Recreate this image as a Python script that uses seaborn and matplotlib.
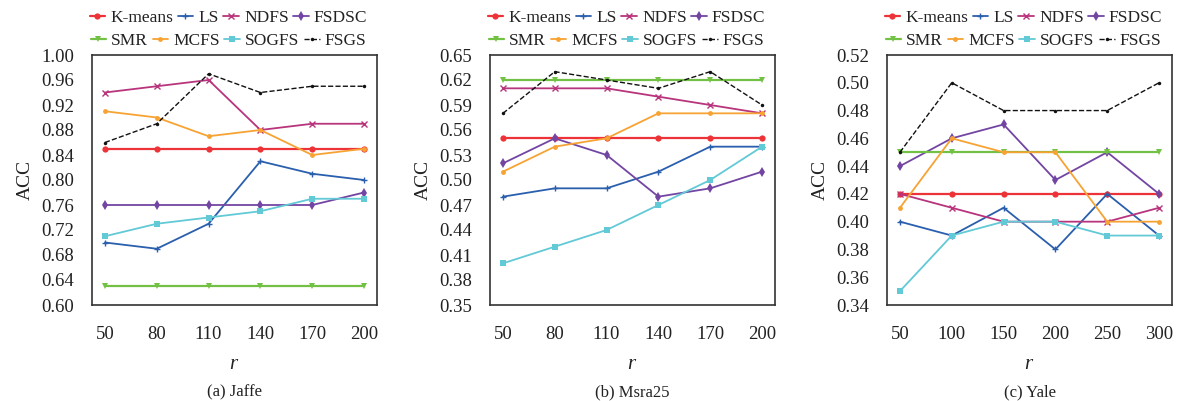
import numpy as np
import pandas as pd
import matplotlib
matplotlib.use("Agg")
import matplotlib.pyplot as plt
import seaborn as sns

sns.set_theme(style="white")
plt.rcParams['font.family'] = ['Liberation Serif', 'DejaVu Serif']
plt.rcParams['mathtext.fontset'] = 'custom'
plt.rcParams['mathtext.it'] = 'Liberation Serif:italic'

methods = ["K-means", "LS", "NDFS", "FSDSC", "SMR", "MCFS", "SOGFS", "FSGS"]

r_jaffe = [50, 80, 110, 140, 170, 200]
jaffe = {
    "K-means": [0.85, 0.85, 0.85, 0.85, 0.85, 0.85],
    "LS":      [0.70, 0.69, 0.73, 0.83, 0.81, 0.80],
    "NDFS":    [0.94, 0.95, 0.96, 0.88, 0.89, 0.89],
    "FSDSC":   [0.76, 0.76, 0.76, 0.76, 0.76, 0.78],
    "SMR":     [0.63, 0.63, 0.63, 0.63, 0.63, 0.63],
    "MCFS":    [0.91, 0.90, 0.87, 0.88, 0.84, 0.85],
    "SOGFS":   [0.71, 0.73, 0.74, 0.75, 0.77, 0.77],
    "FSGS":    [0.86, 0.89, 0.97, 0.94, 0.95, 0.95],
}

r_msra = [50, 80, 110, 140, 170, 200]
msra = {
    "K-means": [0.55, 0.55, 0.55, 0.55, 0.55, 0.55],
    "LS":      [0.48, 0.49, 0.49, 0.51, 0.54, 0.54],
    "NDFS":    [0.61, 0.61, 0.61, 0.60, 0.59, 0.58],
    "FSDSC":   [0.52, 0.55, 0.53, 0.48, 0.49, 0.51],
    "SMR":     [0.62, 0.62, 0.62, 0.62, 0.62, 0.62],
    "MCFS":    [0.51, 0.54, 0.55, 0.58, 0.58, 0.58],
    "SOGFS":   [0.40, 0.42, 0.44, 0.47, 0.50, 0.54],
    "FSGS":    [0.58, 0.63, 0.62, 0.61, 0.63, 0.59],
}

r_yale = [50, 100, 150, 200, 250, 300]
yale = {
    "K-means": [0.42, 0.42, 0.42, 0.42, 0.42, 0.42],
    "LS":      [0.40, 0.39, 0.41, 0.38, 0.42, 0.39],
    "NDFS":    [0.42, 0.41, 0.40, 0.40, 0.40, 0.41],
    "FSDSC":   [0.44, 0.46, 0.47, 0.43, 0.45, 0.42],
    "SMR":     [0.45, 0.45, 0.45, 0.45, 0.45, 0.45],
    "MCFS":    [0.41, 0.46, 0.45, 0.45, 0.40, 0.40],
    "SOGFS":   [0.35, 0.39, 0.40, 0.40, 0.39, 0.39],
    "FSGS":    [0.45, 0.50, 0.48, 0.48, 0.48, 0.50],
}

yticks_jaffe = [0.60, 0.64, 0.68, 0.72, 0.76, 0.80, 0.84, 0.88, 0.92, 0.96, 1.00]
yticks_msra = [0.35, 0.38, 0.41, 0.44, 0.47, 0.50, 0.53, 0.56, 0.59, 0.62, 0.65]
yticks_yale = [0.34, 0.36, 0.38, 0.40, 0.42, 0.44, 0.46, 0.48, 0.50, 0.52]

captions = ["(a) Jaffe", "(b) Msra25", "(c) Yale"]

styles = {
    "K-means": dict(color="#ee3338", marker="o", ms=4.5, ls="-", lw=1.6, mew=0),
    "LS":      dict(color="#2a5fae", marker="+", ms=4.5, ls="-", lw=1.3, mew=1.0),
    "NDFS":    dict(color="#b8347c", marker="x", ms=4, ls="-", lw=1.3, mew=1.0),
    "FSDSC":   dict(color="#7345a3", marker="d", ms=5.5, ls="-", lw=1.3, mew=0),
    "SMR":     dict(color="#72c145", marker="v", ms=5, ls="-", lw=1.6, mew=0),
    "MCFS":    dict(color="#f7a334", marker="o", ms=3.5, ls="-", lw=1.3, mew=0),
    "SOGFS":   dict(color="#62c9d6", marker="s", ms=5, ls="-", lw=1.3, mew=0),
    "FSGS":    dict(color="#111111", marker="o", ms=2.5, ls="--", lw=1.0, mew=0),
}

fig = plt.figure(figsize=(11.79, 4.01), dpi=100)
W, H = 1179, 401
panels = [
    (92, r_jaffe, jaffe, yticks_jaffe),
    (490, r_msra, msra, yticks_msra),
    (887, r_yale, yale, yticks_yale),
]
top_px, bot_px = 55, 305
width_px = 285
rows = [["K-means", "LS", "NDFS", "FSDSC"], ["SMR", "MCFS", "SOGFS", "FSGS"]]
row_y = [18, 41]

for i, (left_px, rr, data, yt) in enumerate(panels):
    ax = fig.add_axes([left_px / W, (H - bot_px) / H, width_px / W, (bot_px - top_px) / H])
    handles = {}
    for m in methods:
        st = styles[m]
        df = pd.DataFrame({"r": rr, "acc": data[m]})
        sns.lineplot(data=df, x="r", y="acc", ax=ax, color=st["color"],
                     marker=st["marker"], markersize=st["ms"], linestyle=st["ls"],
                     linewidth=st["lw"], markeredgewidth=st["mew"],
                     markeredgecolor=st["color"], label=m, legend=False)
        handles[m] = ax.lines[-1]
    step = rr[1] - rr[0]
    ax.set_xlim(rr[0] - 0.25 * step, rr[-1] + 0.25 * step)
    ax.set_xticks(rr)
    ax.set_xticklabels([str(v) for v in rr])
    ax.set_ylim(yt[0], yt[-1])
    ax.set_yticks(yt)
    ax.set_yticklabels([f"{v:.2f}" for v in yt])
    ax.tick_params(axis="both", direction="in", length=4, width=1, color="#333333",
                   labelsize=13.5, labelcolor="#222222")
    ax.tick_params(axis="y", pad=13)
    ax.tick_params(axis="x", pad=15)
    for sp in ax.spines.values():
        sp.set_visible(True)
        sp.set_color("#333333")
        sp.set_linewidth(1.2)
    ax.set_xlabel("$r$", fontsize=15, color="#222222", labelpad=9)
    ax.set_ylabel("ACC", fontsize=14, color="#222222", labelpad=5)
    ax.grid(False)
    cx = (left_px + width_px / 2 - 6) / W
    for row, ry in zip(rows, row_y):
        leg = fig.legend([handles[m] for m in row], row, ncol=4,
                         loc="center", bbox_to_anchor=(cx, 1 - ry / H), frameon=False,
                         fontsize=12.5, handlelength=0.9, handletextpad=0.3,
                         columnspacing=0.25, borderaxespad=0.0, borderpad=0.0)
        for t in leg.get_texts():
            t.set_color("#222222")
    fig.text((left_px + width_px / 2) / W, 9 / H, captions[i], ha="center", va="center",
             fontsize=12, color="#222222")

fig.savefig("out.png", dpi=100, facecolor="white")
